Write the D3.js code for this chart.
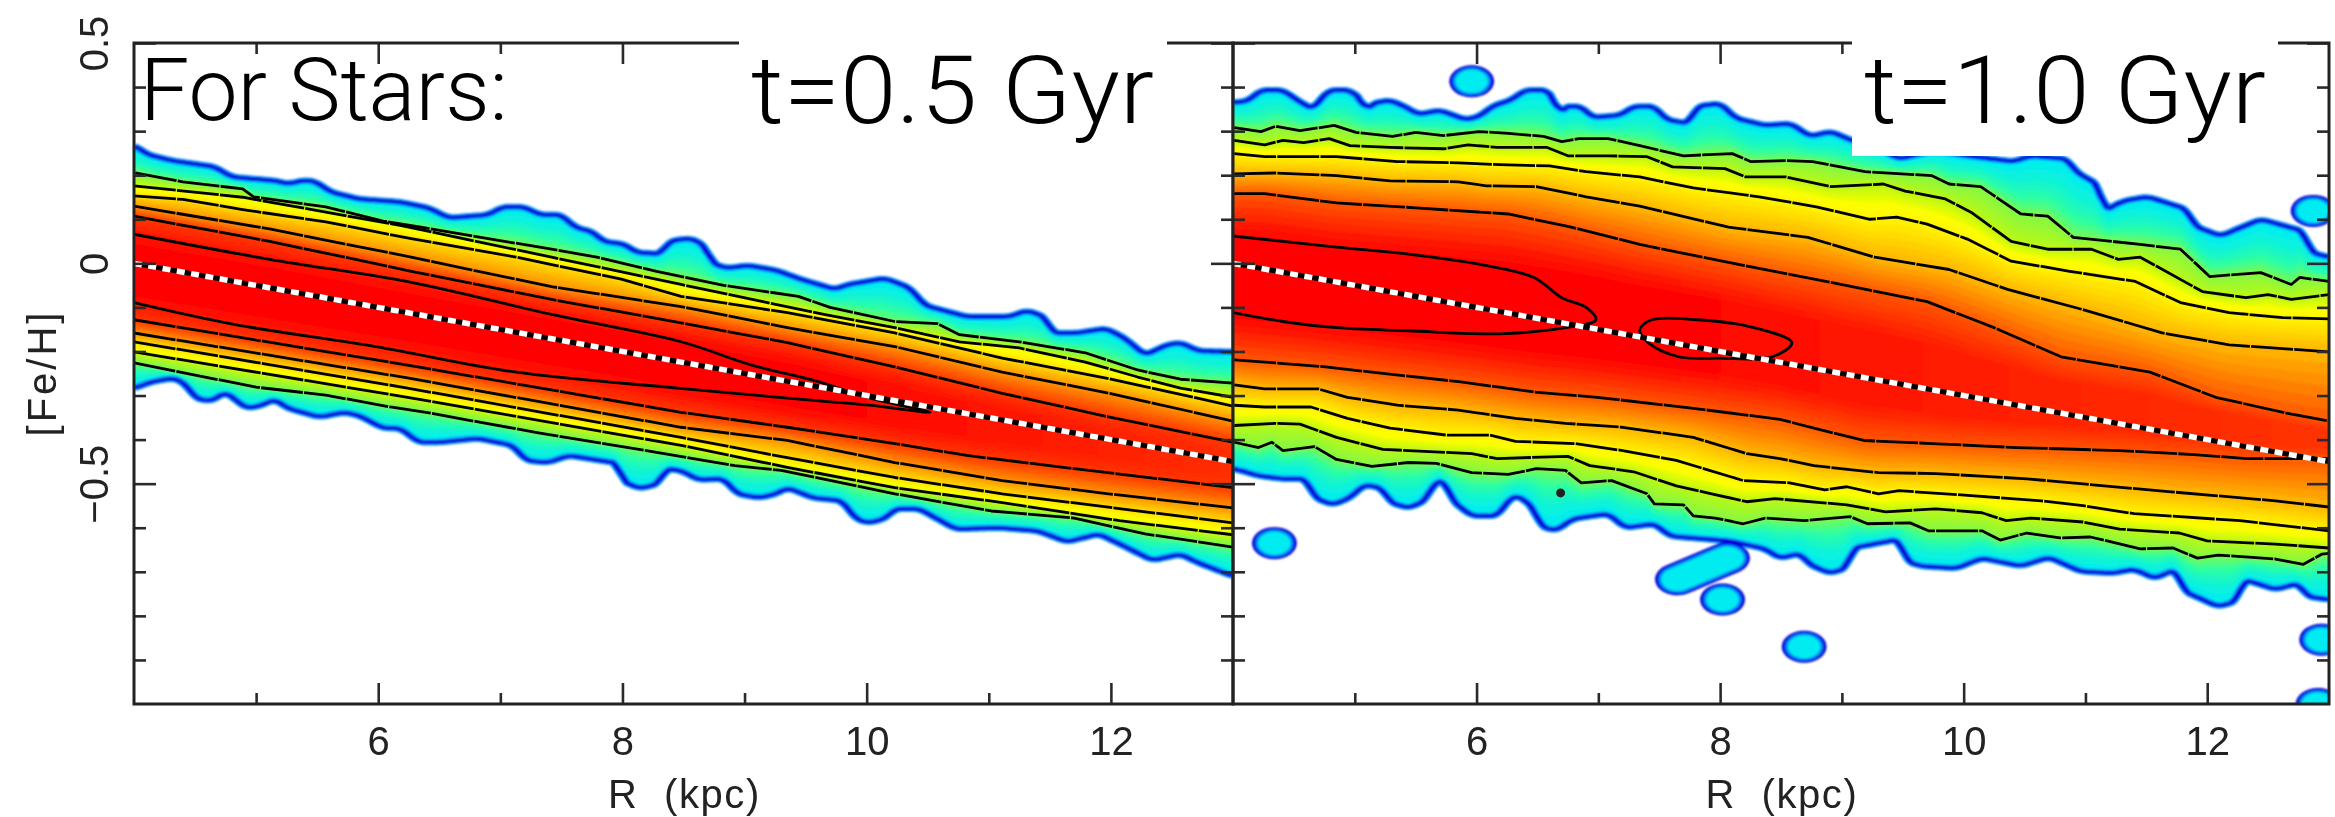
<!DOCTYPE html>
<html><head><meta charset="utf-8">
<script src="https://cdn.jsdelivr.net/npm/d3@7"></script>
<style>
html,body{margin:0;padding:0;background:#fff;}
svg{display:block;}
text{font-family:"Liberation Sans",Arial,sans-serif;}
</style></head><body>
<svg id="chart" width="2335" height="817"></svg>
<script>
// ---------- axes ----------
const rDomain=[4,13], fehDomain=[-1,0.5];
const rMajor=[6,8,10,12], rMinor=[5,7,9,11];
const fehMajor=[0.5,0,-0.5], fehMinor=[0.4,0.3,0.2,0.1,-0.1,-0.2,-0.3,-0.4,-0.6,-0.7,-0.8,-0.9];
const fehLabels=["0.5","0","\u22120.5"];
const xTitle="R  (kpc)", yTitle="[Fe/H]";
const gradient=[[4,0],[13,-0.45]];
// jet-like density colour ramp
const densityLevels=[.13,.28,.40,.47,.52,.56,.66,.82,.92,1];
const densityColors=["#00eef0","#30ffa0","#88f840","#c0f810","#ffff00","#fff000","#ffb000","#ff5000","#ff2000","#ff0000"];

// ---------- panel 1: t=0.5 Gyr ----------
const p1EdgeUp=[[4.01,.267],[4.11,.247],[4.31,.233],[4.66,.219],[4.80,.196],[5.17,.187],[5.26,.180],[5.40,.189],[5.49,.185],[5.61,.162],[5.84,.146],[6.18,.139],[6.41,.126],[6.58,.103],[6.90,.110],[7.02,.128],[7.19,.128],[7.33,.110],[7.50,.110],[7.61,.082],[7.76,.071],[7.84,.050],[8.02,.043],[8.11,.025],[8.32,.021],[8.37,.048],[8.48,.055],[8.59,.055],[8.70,.032],[8.72,.002],[8.85,-.011],[9.03,-.005],[9.26,-.016],[9.47,-.037],[9.74,-.059],[9.85,-.048],[10.15,-.034],[10.35,-.055],[10.48,-.096],[10.82,-.121],[11.17,-.121],[11.31,-.107],[11.46,-.121],[11.52,-.158],[11.72,-.158],[11.96,-.148],[12.11,-.169],[12.28,-.208],[12.46,-.185],[12.57,-.180],[12.72,-.199],[13,-.201]];
const p1EdgeDown=[[4.01,-.283],[4.14,-.269],[4.33,-.260],[4.43,-.276],[4.50,-.306],[4.63,-.313],[4.75,-.292],[4.92,-.329],[5.05,-.322],[5.15,-.308],[5.26,-.329],[5.52,-.349],[5.72,-.338],[5.84,-.345],[6.04,-.374],[6.18,-.374],[6.33,-.406],[6.50,-.406],[6.81,-.397],[7.10,-.413],[7.21,-.447],[7.39,-.452],[7.56,-.436],[7.97,-.454],[7.99,-.493],[8.14,-.511],[8.30,-.500],[8.35,-.466],[8.48,-.470],[8.62,-.491],[8.83,-.489],[8.94,-.523],[9.12,-.532],[9.26,-.523],[9.35,-.509],[9.56,-.532],[9.80,-.539],[9.91,-.580],[10.02,-.589],[10.16,-.578],[10.23,-.557],[10.43,-.557],[10.73,-.603],[11.08,-.600],[11.40,-.607],[11.64,-.632],[11.90,-.614],[12.11,-.642],[12.34,-.674],[12.57,-.660],[12.72,-.680],[13,-.710]];
const p1Up1=[[4.01,.205],[4.40,.185],[4.89,.169],[4.98,.151],[5.57,.128],[6.04,.096],[6.35,.082],[6.84,.059],[7.42,.032],[7.79,.014],[8.28,-.018],[8.83,-.050],[9.44,-.075],[9.70,-.100],[10.23,-.132],[10.58,-.137],[10.76,-.162],[11.25,-.178],[11.79,-.203],[12.22,-.242],[12.57,-.263],[13,-.272]];
const p1Up2=[[4,.176],[4.89,.150],[6.18,.086],[7.42,.014],[8.48,-.048],[9.15,-.087],[9.65,-.116],[10.23,-.146],[10.76,-.178],[11.25,-.192],[11.79,-.224],[12.22,-.258],[12.57,-.283],[13,-.304]];
const p1Up3=[[4,.153],[4.40,.145],[4.89,.122],[5.57,.094],[6.27,.056],[7.13,.014],[7.99,-.036],[8.48,-.075],[9.35,-.112],[10.23,-.158],[11.11,-.215],[11.99,-.262],[13,-.324]];
const p1Up4=[[4,.130],[5.11,.078],[6.27,.014],[7.42,-.053],[8.48,-.098],[9.35,-.146],[10.23,-.189],[11.11,-.247],[11.99,-.295],[13,-.358]];
const p1Up5=[[4,.107],[5.11,.050],[6.27,-.018],[7.42,-.082],[8.48,-.135],[9.35,-.180],[10.23,-.235],[11.11,-.295],[11.99,-.349],[13,-.406]];
const p1Down1=[[4,-.226],[5,-.281],[5.57,-.299],[6.10,-.326],[6.43,-.340],[6.84,-.361],[7.30,-.384],[8.28,-.429],[8.92,-.459],[9.30,-.470],[10.23,-.523],[11.02,-.562],[11.70,-.578],[12.28,-.614],[13,-.644]];
const p1Down2=[[4,-.201],[6.24,-.304],[8.48,-.413],[9.35,-.463],[10.23,-.509],[11.11,-.543],[12.07,-.584],[13,-.616]];
const p1Down3=[[4,-.178],[6.24,-.283],[8.48,-.395],[9.35,-.441],[10.23,-.486],[11.11,-.523],[13,-.589]];
const p1Down4=[[4,-.158],[6.24,-.260],[8.48,-.372],[9.35,-.402],[10.23,-.452],[11.11,-.493],[11.98,-.523],[13,-.555]];
const p1Down5=[[4,-.128],[6.24,-.231],[8.48,-.338],[9.35,-.372],[10.23,-.409],[10.82,-.436],[11.70,-.466],[13,-.509]];
const p1Inner=[[[4,.066],[5.11,.009],[6.27,-.043],[7.42,-.116],[8.48,-.178],[9.06,-.231],[9.56,-.265],[10.03,-.306],[10.52,-.338],[10.02,-.322],[9.35,-.306],[8.45,-.283],[7.13,-.247],[5.98,-.189],[4.83,-.139],[4,-.089]]];
const p1Ridge=[[4,-.02],[8,-.2],[10.5,-.338],[13,-.455]];
const p1Peak=[[4,1],[9.5,1],[11,.95],[13,.89]];
const p1LineLevels=[.13,.38,.50,.60,.72,.88];
const p1Blobs=[];
const p1Dots=[];

// ---------- panel 2: t=1.0 Gyr ----------
const p2EdgeUp=[[4.01,.365],[4.12,.368],[4.23,.393],[4.41,.393],[4.53,.370],[4.66,.349],[4.71,.370],[4.79,.393],[4.96,.393],[5.07,.368],[5.08,.338],[5.14,.363],[5.29,.370],[5.41,.356],[5.52,.338],[5.70,.347],[5.91,.326],[6.02,.333],[6.14,.358],[6.28,.370],[6.40,.393],[6.58,.393],[6.65,.368],[6.67,.326],[6.71,.356],[6.86,.356],[6.95,.331],[7.18,.336],[7.29,.356],[7.46,.356],[7.56,.326],[7.74,.317],[7.81,.356],[8.00,.363],[8.13,.329],[8.37,.313],[8.58,.317],[8.74,.288],[8.91,.299],[9.08,.279],[9.27,.265],[9.47,.237],[9.76,.256],[10.03,.244],[10.41,.231],[10.55,.244],[10.85,.237],[10.92,.208],[11.12,.176],[11.13,.146],[11.15,.116],[11.21,.128],[11.32,.142],[11.51,.151],[11.83,.123],[11.90,.084],[12.11,.062],[12.44,.100],[12.79,.073],[12.85,.025],[13,.014]];
const p2EdgeDown=[[4.01,-.466],[4.21,-.482],[4.41,-.489],[4.60,-.489],[4.67,-.532],[4.82,-.548],[4.96,-.532],[5.08,-.502],[5.23,-.511],[5.29,-.543],[5.44,-.555],[5.58,-.539],[5.65,-.498],[5.74,-.493],[5.80,-.539],[5.96,-.573],[6.17,-.573],[6.28,-.532],[6.34,-.527],[6.47,-.555],[6.52,-.596],[6.65,-.607],[6.79,-.580],[7.08,-.568],[7.22,-.600],[7.46,-.591],[7.59,-.619],[7.76,-.623],[8.08,-.630],[8.37,-.648],[8.49,-.669],[8.66,-.658],[8.73,-.683],[8.90,-.703],[9.04,-.692],[9.09,-.646],[9.47,-.626],[9.53,-.676],[9.65,-.687],[9.94,-.692],[10.15,-.669],[10.47,-.687],[10.70,-.667],[10.96,-.699],[11.22,-.703],[11.40,-.694],[11.57,-.715],[11.74,-.694],[11.81,-.744],[12.09,-.779],[12.24,-.767],[12.30,-.717],[12.56,-.740],[12.75,-.726],[12.82,-.756],[13,-.763]];
const p2Up1=[[4.01,.308],[4.23,.299],[4.35,.311],[4.55,.301],[4.83,.313],[5.01,.297],[5.31,.288],[5.50,.297],[5.73,.290],[6.02,.299],[6.26,.295],[6.55,.288],[6.70,.276],[6.84,.283],[7.08,.283],[7.34,.267],[7.70,.244],[8.10,.249],[8.25,.231],[8.54,.233],[8.76,.231],[9.19,.208],[9.74,.199],[9.88,.180],[10.14,.174],[10.47,.112],[10.69,.107],[10.90,.059],[11.45,.043],[11.78,.032],[12.02,-.030],[12.44,-.021],[12.69,-.048],[12.76,-.032],[13,-.041]];
const p2Up2=[[4.01,.279],[4.26,.269],[4.41,.279],[4.58,.274],[4.79,.283],[4.96,.267],[5.29,.263],[5.73,.260],[5.93,.269],[6.17,.263],[6.58,.263],[6.75,.244],[7.08,.244],[7.40,.242],[7.61,.219],[8.04,.215],[8.21,.196],[8.54,.196],[8.91,.174],[9.34,.180],[9.52,.164],[9.85,.146],[10.06,.116],[10.39,.050],[10.69,.032],[11.05,.032],[11.27,.009],[11.45,.014],[11.96,-.064],[12.32,-.078],[12.50,-.071],[12.69,-.082],[13,-.071]];
const p2Up3=[[4.01,.249],[4.26,.242],[4.85,.242],[5.35,.231],[5.85,.228],[6.19,.224],[6.60,.221],[6.90,.208],[7.34,.196],[7.78,.171],[8.32,.151],[8.79,.128],[9.23,.100],[9.45,.105],[9.70,.089],[10.03,.055],[10.39,.005],[10.87,-.018],[11.41,-.041],[11.78,-.089],[12.18,-.112],[12.62,-.123],[13,-.126]];
const p2Up4=[[4.01,.203],[4.35,.205],[4.85,.199],[5.29,.187],[5.85,.185],[6.08,.176],[6.49,.174],[6.90,.151],[7.34,.130],[8.07,.082],[8.72,.059],[9.27,.014],[9.88,-.014],[10.36,-.059],[10.98,-.105],[11.63,-.158],[12.18,-.185],[13,-.201]];
const p2Up5=[[4.01,.158],[4.26,.158],[4.85,.137],[5.50,.126],[6.26,.112],[6.75,.084],[7.34,.043],[8.07,.002],[8.91,-.043],[9.70,-.087],[10.25,-.146],[10.80,-.212],[11.53,-.247],[12.07,-.304],[12.65,-.340],[13,-.358]];
const p2Down1=[[4.01,-.406],[4.21,-.418],[4.32,-.406],[4.41,-.425],[4.67,-.416],[4.85,-.445],[5.14,-.461],[5.44,-.452],[5.67,-.454],[5.96,-.475],[6.26,-.479],[6.49,-.466],[6.73,-.470],[6.86,-.498],[7.11,-.493],[7.40,-.523],[7.46,-.546],[7.70,-.548],[7.78,-.573],[7.96,-.578],[8.19,-.591],[8.37,-.578],[8.69,-.584],[9.07,-.575],[9.21,-.591],[9.56,-.589],[9.71,-.607],[10.15,-.607],[10.30,-.628],[10.52,-.612],[10.79,-.623],[11.04,-.621],[11.45,-.648],[11.72,-.646],[11.92,-.669],[12.09,-.662],[12.56,-.671],[12.79,-.683],[12.94,-.660],[13,-.658]];
const p2Down2=[[4.01,-.368],[4.35,-.363],[4.55,-.365],[4.85,-.395],[5.23,-.422],[5.96,-.432],[6.17,-.443],[6.75,-.438],[6.93,-.459],[7.29,-.473],[7.64,-.505],[7.93,-.523],[8.22,-.541],[8.45,-.534],[9.04,-.548],[9.36,-.564],[9.77,-.557],[10.15,-.566],[10.35,-.584],[10.55,-.578],[10.98,-.587],[11.28,-.603],[11.77,-.612],[12,-.630],[12.56,-.637],[13,-.646]];
const p2Down3=[[4.01,-.322],[4.26,-.326],[4.64,-.326],[4.94,-.352],[5.29,-.374],[5.76,-.390],[6.11,-.390],[6.32,-.404],[6.81,-.409],[7.20,-.425],[7.64,-.447],[8.19,-.493],[8.57,-.498],[8.86,-.514],[9.04,-.507],[9.30,-.523],[9.47,-.516],[10.06,-.527],[10.64,-.539],[10.98,-.550],[11.40,-.568],[12.27,-.584],[13,-.607]];
const p2Down4=[[4.01,-.276],[4.26,-.285],[4.70,-.285],[4.94,-.304],[5.35,-.322],[5.85,-.333],[6.32,-.352],[6.73,-.363],[7.20,-.372],[7.78,-.395],[8.22,-.432],[8.49,-.443],[8.77,-.459],[9.30,-.475],[9.77,-.477],[10.52,-.489],[11.04,-.502],[11.68,-.518],[12.06,-.527],[12.56,-.539],[13,-.553]];
const p2Down5=[[4.01,-.219],[4.35,-.226],[4.76,-.235],[5.14,-.247],[5.87,-.269],[6.47,-.292],[6.99,-.304],[7.78,-.329],[8.49,-.354],[8.77,-.374],[9.18,-.402],[9.74,-.409],[10.43,-.418],[11.28,-.425],[11.89,-.434],[12.32,-.443],[13,-.443]];
const p2Inner=[[[4,.062],[4.85,.037],[5.44,.021],[6.02,-.002],[6.47,-.032],[6.70,-.078],[6.90,-.100],[6.98,-.128],[6.73,-.146],[6.19,-.160],[5.44,-.153],[4.85,-.146],[4.41,-.132],[4,-.112]],
 [[7.41,-.180],[7.34,-.151],[7.44,-.128],[7.81,-.128],[8.25,-.144],[8.59,-.180],[8.43,-.212],[7.99,-.215],[7.66,-.212]]];
const p2Ridge=[[4,-.03],[7,-.13],[8,-.17],[10,-.29],[13,-.40]];
const p2Peak=[[4,1],[7.5,1],[9,.95],[11,.91],[13,.88]];
const p2LineLevels=[.13,.40,.47,.56,.66,.82];
const p2Blobs=[[[5.96,.413]],[[4.34,-.635]],[[7.65,-.717],[8.06,-.669]],[[8.02,-.763]],[[8.69,-.870]],[[12.94,-.854]],[[12.91,-1.0]],[[12.87,.119]]];
const p2Dots=[[6.69,-.521]];

// ---------- overlay captions ----------
const captionLeft="For Stars:", captionA="t=0.5 Gyr", captionB="t=1.0 Gyr";

// ---------- drawing ----------
const svg=d3.select("#chart");
const defs=svg.append("defs");
const addBlur=(id,s)=>defs.append("filter").attr("id",id).attr("filterUnits","userSpaceOnUse")
  .attr("x",0).attr("y",0).attr("width",2335).attr("height",817)
  .append("feGaussianBlur").attr("stdDeviation",s);
addBlur("soft",1.2); addBlur("line",0.55); addBlur("softer",0.75);
const colour=d3.scaleLinear().domain(densityLevels).range(densityColors).clamp(true);
const curve=pts=>d3.scaleLinear().domain(pts.map(d=>d[0])).range(pts.map(d=>d[1])).clamp(true);
// rounds the bumps of a read-off rim by averaging it over a short window in R
const rounded=f=>{const w=d3.range(-0.05,0.0501,0.01);return r=>d3.mean(w,h=>f(r+h));};
const gridR=d3.range(4,13.0001,0.02);
const yScale=d3.scaleLinear().domain(fehDomain).range([704,43]);
const stretch=1.4;

function drawPanel(id,x0,x1,P,isLeft){
  const x=d3.scaleLinear().domain(rDomain).range([x0,x1]);
  const y=yScale;
  defs.append("clipPath").attr("id","clip"+id).append("rect")
    .attr("x",x0).attr("y",43).attr("width",x1-x0).attr("height",661);
  const root=svg.append("g").attr("class","panel");
  const plot=root.append("g").attr("filter","url(#soft)").append("g").attr("clip-path","url(#clip"+id+")");

  const ups=[rounded(curve(P.edgeUp)),...P.ups.map(curve),curve(P.ridge)];
  const downs=[rounded(curve(P.edgeDown)),...P.downs.map(curve),curve(P.ridge)];
  const area=(u,d)=>d3.area().x(r=>x(r)).y0(r=>y(d(r))).y1(r=>y(u(r)))(gridR);
  const fields=plot.append("g");

  // base envelope
  fields.append("path").attr("d",area(ups[0],downs[0])).attr("fill",colour(P.levels[0]));

  // nested iso-density shells
  const nBands=ups.length-1;
  for(let k=0;k<nBands;k++){
    const last=k===nBands-1;
    const steps=k===0?14:last?12:6;
    for(let s=1;s<=steps;s++){
      const t=s/steps;
      const u=r=>ups[k](r)*(1-t)+ups[k+1](r)*t;
      const d=r=>downs[k](r)*(1-t)+downs[k+1](r)*t;
      let fill;
      if(last){
        const gid="g"+id+"_"+s;
        const g=defs.append("linearGradient").attr("id",gid).attr("gradientUnits","userSpaceOnUse")
          .attr("x1",x0).attr("x2",x1).attr("y1",0).attr("y2",0);
        P.peak.forEach(pk=>{
          const v=P.levels[k]+(pk[1]-P.levels[k])*Math.min(1,t*2);
          g.append("stop").attr("offset",(pk[0]-4)/9).attr("stop-color",colour(v));
        });
        fill="url(#"+gid+")";
      } else {
        const e=k===0?Math.pow(t,1.6):t;
        fill=colour(P.levels[k]+(P.levels[k+1]-P.levels[k])*e);
      }
      fields.append("path").attr("d",area(u,d)).attr("fill",fill);
    }
  }

  // blue rims, drawn in a horizontally stretched frame
  const rim=plot.append("g").attr("transform","scale("+stretch+",1)");
  const rimLine=d3.line().x(d=>x(d[0])/stretch).y(d=>y(d[1]));
  [ups[0],downs[0]].forEach(f=>{
    const pts=gridR.map(r=>[r,f(r)]);
    rim.append("path").attr("d",rimLine(pts)).attr("fill","none").attr("stroke","#0090ff").attr("stroke-width",6.5).attr("stroke-linejoin","round");
    rim.append("path").attr("d",rimLine(pts)).attr("fill","none").attr("stroke","#0000d8").attr("stroke-width",3.6).attr("stroke-linejoin","round");
  });
  // isolated blobs
  P.blobs.forEach(b=>{
    const pts=b.length===1?[b[0],b[0]]:b;
    [[32,"#0000d8"],[27,"#0090ff"],[23,"#00ecf0"]].forEach(([w,c])=>
      rim.append("path").attr("d",rimLine(pts)).attr("fill","none").attr("stroke",c)
        .attr("stroke-width",w).attr("stroke-linecap","round"));
  });

  // contours, sharper than the density field
  const over=root.append("g").attr("filter","url(#line)").append("g").attr("clip-path","url(#clip"+id+")");
  const line=d3.line().x(d=>x(d[0])).y(d=>y(d[1]));
  const rounder=d3.line().x(d=>x(d[0])).y(d=>y(d[1])).curve(d3.curveCatmullRom);
  const closed=d3.line().x(d=>x(d[0])).y(d=>y(d[1])).curve(d3.curveCatmullRomClosed);
  [...P.ups,...P.downs].forEach(c=>over.append("path").attr("d",line(c)).attr("fill","none")
    .attr("stroke","#000").attr("stroke-width",2.8).attr("stroke-linejoin","round").attr("stroke-dasharray","42 1.2"));
  P.inner.forEach(c=>over.append("path").attr("d",(c[0][0]===4?rounder:closed)(c)).attr("fill","none")
    .attr("stroke","#000").attr("stroke-width",2.8).attr("stroke-linejoin","round"));
  over.selectAll("circle.dot").data(P.dots).join("circle").attr("class","dot")
    .attr("cx",d=>x(d[0])).attr("cy",d=>y(d[1])).attr("r",4.5).attr("fill","#222");

  // dotted radial gradient
  over.append("path").attr("d",line(gradient)).attr("stroke","#000").attr("stroke-width",5).attr("fill","none");
  over.append("path").attr("d",line(gradient)).attr("stroke","#fff").attr("stroke-width",5.5).attr("fill","none")
    .attr("stroke-dasharray","8 6.5");

  // axes and frame
  const ax=root.append("g").attr("filter","url(#softer)");
  const style=g=>{g.select(".domain").remove();
    g.selectAll(".tick line").attr("stroke","#2a2a2a").attr("stroke-width",2.6);
    g.selectAll("text").attr("font-size",40).attr("fill","#222").attr("font-family","Liberation Sans");};
  const noText=g=>g.selectAll("text").remove();
  ax.append("g").attr("transform","translate(0,704)").call(d3.axisBottom(x).tickValues(rMajor).tickSizeInner(-21).tickSizeOuter(0).tickPadding(23).tickFormat(d3.format("d"))).call(style);
  ax.append("g").attr("transform","translate(0,704)").call(d3.axisBottom(x).tickValues(rMinor).tickSizeInner(-11).tickSizeOuter(0)).call(style).call(noText);
  ax.append("g").attr("transform","translate(0,43)").call(d3.axisTop(x).tickValues(rMajor).tickSizeInner(-21).tickSizeOuter(0)).call(style).call(noText);
  ax.append("g").attr("transform","translate(0,43)").call(d3.axisTop(x).tickValues(rMinor).tickSizeInner(-11).tickSizeOuter(0)).call(style).call(noText);
  const leftMajor=ax.append("g").attr("transform","translate("+x0+",0)")
    .call(d3.axisLeft(y).tickValues(fehMajor).tickSizeInner(-22).tickSizeOuter(0).tickFormat((d,i)=>fehLabels[i])).call(style);
  if(isLeft){
    leftMajor.selectAll("text").attr("transform","rotate(-90)").attr("x",0).attr("y",-26).attr("dy",0).attr("text-anchor","middle");
  } else leftMajor.call(noText);
  ax.append("g").attr("transform","translate("+x0+",0)").call(d3.axisLeft(y).tickValues(fehMinor).tickSizeInner(-12).tickSizeOuter(0)).call(style).call(noText);
  ax.append("g").attr("transform","translate("+x1+",0)").call(d3.axisRight(y).tickValues(fehMajor).tickSizeInner(-22).tickSizeOuter(0)).call(style).call(noText);
  ax.append("g").attr("transform","translate("+x1+",0)").call(d3.axisRight(y).tickValues(fehMinor).tickSizeInner(-12).tickSizeOuter(0)).call(style).call(noText);
  ax.append("rect").attr("x",x0).attr("y",43).attr("width",x1-x0).attr("height",661)
    .attr("fill","none").attr("stroke","#222").attr("stroke-width",3);
  ax.append("text").attr("x",(x0+x1)/2+1).attr("y",808).attr("text-anchor","middle").attr("font-size",40).attr("fill","#222")
    .attr("letter-spacing",1.6).style("white-space","pre").text(xTitle);
  if(isLeft) ax.append("text").attr("transform","translate(56,373) rotate(-90)").attr("text-anchor","middle")
    .attr("font-size",40).attr("fill","#222").attr("letter-spacing",3).text(yTitle);
}

drawPanel(1,134,1233,{edgeUp:p1EdgeUp,edgeDown:p1EdgeDown,ups:[p1Up1,p1Up2,p1Up3,p1Up4,p1Up5],downs:[p1Down1,p1Down2,p1Down3,p1Down4,p1Down5],
  inner:p1Inner,ridge:p1Ridge,peak:p1Peak,levels:p1LineLevels,blobs:p1Blobs,dots:p1Dots},true);
drawPanel(2,1233,2329,{edgeUp:p2EdgeUp,edgeDown:p2EdgeDown,ups:[p2Up1,p2Up2,p2Up3,p2Up4,p2Up5],downs:[p2Down1,p2Down2,p2Down3,p2Down4,p2Down5],
  inner:p2Inner,ridge:p2Ridge,peak:p2Peak,levels:p2LineLevels,blobs:p2Blobs,dots:p2Dots},false);

// overlay boxes and captions (sharp, on top)
const overlay=svg.append("g");
overlay.append("rect").attr("x",739).attr("y",36).attr("width",428).attr("height",94).attr("fill","#fff");
overlay.append("rect").attr("x",1852).attr("y",36).attr("width",426).attr("height",120).attr("fill","#fff");
const cap=(t,xp,yp,fs,w)=>overlay.append("text").attr("x",xp).attr("y",yp).attr("font-size",fs)
  .attr("textLength",w).attr("lengthAdjust","spacingAndGlyphs")
  .style("font-family","Roboto").style("font-weight",300).attr("fill","#000").text(t);
cap(captionLeft,140,120,88,368);
cap(captionA,751,123,94,403);
cap(captionB,1864,123,94,402);
</script>
</body></html>
